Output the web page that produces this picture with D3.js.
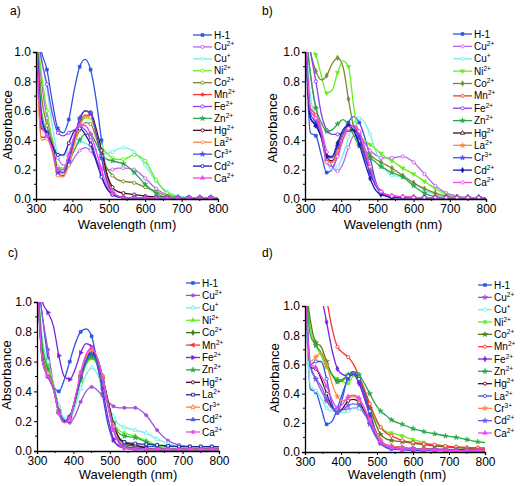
<!DOCTYPE html>
<html><head><meta charset="utf-8">
<script src="https://cdn.jsdelivr.net/npm/d3@7"></script>
<style>
html,body{margin:0;padding:0;background:#fff;}
svg{display:block;font-family:"Liberation Sans",Arial,sans-serif;}
</style></head>
<body>
<svg id="chart" width="520" height="486"></svg>
<script>
// Wavelength grid (nm)
const W = [300,315,330,345,360,375,390,405,420,435,450,465,480,495,510,525,540,570,600,630,660,690,720,750,780,800];
const ions = ["H-1","Cu","Cu","Ni","Co","Mn","Fe","Zn","Hg","La","Cr","Cd","Ca"];
const charges = ["","2+","+","2+","2+","2+","2+","2+","2+","2+","3+","2+","2+"];
const xTicks = [300,400,500,600,700,800];
const yTicks = [0,0.2,0.4,0.6,0.8,1.0];
const panelLabels = ["a)","b)","c)","d)"];

// Panel a
const seriesA = [
 [1.2,1.0,0.88,0.66,0.48,0.45,0.54,0.74,0.9,0.95,0.88,0.68,0.4,0.16,0.05,0.02,0.01,0.01,0.01,0.01,0.01,0.01,0.01,0.01,0.01,0.01],
 [1.2,0.8,0.55,0.4,0.28,0.23,0.23,0.28,0.33,0.35,0.33,0.27,0.21,0.2,0.2,0.21,0.21,0.2,0.14,0.07,0.03,0.015,0.01,0.01,0.01,0.01],
 [1.2,0.95,0.75,0.5,0.31,0.29,0.33,0.37,0.39,0.38,0.36,0.34,0.32,0.31,0.32,0.34,0.35,0.32,0.23,0.12,0.05,0.02,0.01,0.01,0.01,0.01],
 [1.2,0.85,0.6,0.4,0.22,0.21,0.28,0.4,0.5,0.55,0.55,0.46,0.36,0.31,0.28,0.27,0.27,0.3,0.26,0.13,0.04,0.015,0.01,0.01,0.01,0.01],
 [1.2,0.7,0.5,0.38,0.2,0.2,0.27,0.38,0.47,0.52,0.51,0.42,0.3,0.21,0.16,0.13,0.12,0.11,0.08,0.05,0.02,0.01,0.01,0.01,0.01,0.01],
 [1.2,0.42,0.42,0.33,0.17,0.16,0.24,0.38,0.51,0.57,0.57,0.46,0.3,0.14,0.05,0.02,0.01,0.01,0.01,0.01,0.01,0.01,0.01,0.01,0.01,0.01],
 [1.2,0.95,0.78,0.58,0.45,0.43,0.45,0.47,0.49,0.47,0.4,0.28,0.16,0.07,0.03,0.015,0.01,0.01,0.01,0.01,0.01,0.01,0.01,0.01,0.01,0.01],
 [1.2,0.6,0.45,0.35,0.2,0.2,0.25,0.33,0.4,0.44,0.44,0.38,0.3,0.27,0.26,0.25,0.24,0.18,0.1,0.04,0.01,0.01,0.01,0.01,0.01,0.01],
 [1.2,0.48,0.45,0.36,0.19,0.18,0.26,0.41,0.54,0.6,0.59,0.48,0.33,0.17,0.08,0.05,0.04,0.03,0.02,0.015,0.01,0.01,0.01,0.01,0.01,0.01],
 [1.2,0.4,0.41,0.32,0.16,0.15,0.23,0.37,0.5,0.56,0.56,0.45,0.29,0.13,0.05,0.02,0.01,0.01,0.01,0.01,0.01,0.01,0.01,0.01,0.01,0.01],
 [1.2,0.5,0.45,0.35,0.18,0.18,0.26,0.41,0.55,0.6,0.58,0.45,0.28,0.12,0.04,0.02,0.01,0.01,0.01,0.01,0.01,0.01,0.01,0.01,0.01,0.01],
 [1.2,0.55,0.44,0.36,0.3,0.3,0.38,0.46,0.48,0.44,0.37,0.26,0.15,0.07,0.03,0.015,0.01,0.01,0.01,0.01,0.01,0.01,0.01,0.01,0.01,0.01],
 [1.2,0.5,0.43,0.34,0.2,0.2,0.3,0.43,0.5,0.5,0.44,0.33,0.2,0.09,0.04,0.02,0.01,0.01,0.01,0.01,0.01,0.01,0.01,0.01,0.01,0.01]
];
// Panel b
const seriesB = [
 [1.2,0.45,0.43,0.3,0.18,0.2,0.3,0.42,0.52,0.56,0.52,0.42,0.28,0.12,0.04,0.02,0.01,0.01,0.01,0.01,0.01,0.01,0.01,0.01,0.01,0.01],
 [1.2,0.85,0.62,0.48,0.32,0.22,0.19,0.24,0.35,0.43,0.43,0.38,0.33,0.3,0.28,0.28,0.28,0.29,0.25,0.17,0.09,0.04,0.02,0.01,0.01,0.01],
 [1.2,0.7,0.55,0.42,0.25,0.2,0.22,0.3,0.42,0.52,0.55,0.52,0.44,0.33,0.25,0.19,0.16,0.15,0.11,0.06,0.03,0.01,0.01,0.01,0.01,0.01],
 [1.2,1.05,0.98,0.84,0.72,0.74,0.86,0.94,0.9,0.62,0.43,0.4,0.37,0.34,0.31,0.28,0.26,0.21,0.17,0.12,0.07,0.03,0.015,0.01,0.01,0.01],
 [1.2,1.0,0.87,0.81,0.84,0.92,0.96,0.9,0.68,0.48,0.38,0.33,0.3,0.27,0.25,0.23,0.21,0.16,0.11,0.07,0.04,0.02,0.01,0.01,0.01,0.01],
 [1.2,0.62,0.57,0.45,0.28,0.25,0.32,0.42,0.49,0.5,0.45,0.33,0.2,0.1,0.05,0.03,0.02,0.015,0.01,0.01,0.01,0.01,0.01,0.01,0.01,0.01],
 [1.2,1.0,0.8,0.58,0.47,0.44,0.44,0.45,0.47,0.46,0.39,0.28,0.18,0.1,0.05,0.03,0.02,0.01,0.01,0.01,0.01,0.01,0.01,0.01,0.01,0.01],
 [1.2,0.85,0.62,0.52,0.46,0.47,0.51,0.54,0.5,0.43,0.36,0.32,0.28,0.25,0.22,0.2,0.18,0.15,0.09,0.04,0.015,0.01,0.01,0.01,0.01,0.01],
 [1.2,0.55,0.5,0.42,0.27,0.26,0.33,0.42,0.47,0.47,0.42,0.31,0.2,0.1,0.05,0.03,0.02,0.015,0.01,0.01,0.01,0.01,0.01,0.01,0.01,0.01],
 [1.2,0.6,0.55,0.44,0.26,0.25,0.32,0.42,0.49,0.5,0.45,0.33,0.2,0.1,0.05,0.03,0.02,0.015,0.01,0.01,0.01,0.01,0.01,0.01,0.01,0.01],
 [1.2,0.58,0.52,0.44,0.29,0.28,0.36,0.45,0.5,0.49,0.42,0.3,0.18,0.09,0.04,0.02,0.015,0.01,0.01,0.01,0.01,0.01,0.01,0.01,0.01,0.01],
 [1.2,0.55,0.5,0.42,0.29,0.29,0.38,0.47,0.5,0.46,0.37,0.25,0.14,0.06,0.03,0.02,0.01,0.01,0.01,0.01,0.01,0.01,0.01,0.01,0.01,0.01],
 [1.2,0.6,0.55,0.45,0.25,0.22,0.29,0.4,0.48,0.5,0.46,0.35,0.22,0.11,0.05,0.03,0.02,0.015,0.01,0.01,0.01,0.01,0.01,0.01,0.01,0.01]
];
// Panel c
const seriesC = [
 [1.2,0.9,0.62,0.44,0.4,0.48,0.6,0.72,0.8,0.82,0.77,0.6,0.38,0.18,0.07,0.04,0.04,0.035,0.03,0.03,0.03,0.03,0.03,0.03,0.03,0.03],
 [1.2,0.9,0.68,0.45,0.3,0.21,0.19,0.24,0.33,0.4,0.43,0.41,0.37,0.33,0.3,0.29,0.29,0.29,0.24,0.14,0.07,0.04,0.03,0.02,0.02,0.02],
 [1.2,0.75,0.6,0.45,0.3,0.22,0.22,0.3,0.42,0.51,0.56,0.52,0.42,0.32,0.23,0.18,0.16,0.14,0.12,0.08,0.05,0.03,0.02,0.02,0.02,0.02],
 [1.2,0.7,0.57,0.44,0.27,0.2,0.22,0.33,0.47,0.58,0.62,0.58,0.46,0.31,0.19,0.14,0.12,0.1,0.07,0.04,0.02,0.01,0.01,0.01,0.01,0.01],
 [1.2,0.65,0.52,0.42,0.27,0.2,0.23,0.34,0.49,0.6,0.64,0.6,0.49,0.33,0.18,0.09,0.05,0.03,0.02,0.01,0.01,0.01,0.01,0.01,0.01,0.01],
 [1.2,0.62,0.51,0.42,0.26,0.19,0.22,0.35,0.51,0.63,0.68,0.63,0.5,0.32,0.16,0.07,0.03,0.02,0.01,0.01,0.01,0.01,0.01,0.01,0.01,0.01],
 [1.2,1.0,0.93,0.84,0.64,0.5,0.48,0.55,0.66,0.72,0.7,0.58,0.42,0.22,0.08,0.03,0.02,0.01,0.01,0.01,0.01,0.01,0.01,0.01,0.01,0.01],
 [1.2,0.7,0.55,0.44,0.27,0.2,0.23,0.34,0.48,0.59,0.63,0.59,0.48,0.33,0.19,0.12,0.1,0.09,0.06,0.03,0.01,0.01,0.01,0.01,0.01,0.01],
 [1.2,0.62,0.5,0.42,0.26,0.2,0.23,0.35,0.5,0.62,0.66,0.62,0.5,0.34,0.18,0.09,0.06,0.04,0.02,0.01,0.01,0.01,0.01,0.01,0.01,0.01],
 [1.2,0.6,0.5,0.42,0.26,0.2,0.22,0.34,0.5,0.61,0.66,0.61,0.49,0.32,0.16,0.08,0.06,0.05,0.045,0.04,0.035,0.03,0.03,0.03,0.03,0.03],
 [1.2,0.62,0.52,0.43,0.26,0.19,0.22,0.35,0.51,0.63,0.68,0.63,0.5,0.32,0.16,0.07,0.03,0.02,0.01,0.01,0.01,0.01,0.01,0.01,0.01,0.01],
 [1.2,0.6,0.5,0.42,0.26,0.2,0.23,0.35,0.5,0.61,0.65,0.6,0.47,0.3,0.14,0.06,0.03,0.02,0.01,0.01,0.01,0.01,0.01,0.01,0.01,0.01],
 [1.2,0.6,0.5,0.41,0.25,0.19,0.22,0.36,0.53,0.65,0.69,0.63,0.49,0.3,0.14,0.05,0.02,0.01,0.01,0.01,0.01,0.01,0.01,0.01,0.01,0.01]
];
// Panel d
const seriesD = [
 [1.2,0.43,0.41,0.3,0.19,0.21,0.3,0.41,0.5,0.53,0.48,0.37,0.25,0.13,0.06,0.03,0.02,0.015,0.01,0.01,0.01,0.01,0.01,0.01,0.01,0.01],
 [1.2,0.6,0.5,0.42,0.35,0.3,0.29,0.29,0.29,0.3,0.3,0.26,0.2,0.12,0.07,0.05,0.04,0.03,0.025,0.02,0.02,0.02,0.015,0.015,0.015,0.015],
 [1.2,0.45,0.42,0.37,0.3,0.28,0.28,0.27,0.28,0.3,0.3,0.27,0.2,0.12,0.06,0.04,0.03,0.025,0.02,0.02,0.015,0.015,0.015,0.01,0.01,0.01],
 [1.2,0.85,0.73,0.66,0.58,0.53,0.5,0.48,0.47,0.52,0.5,0.42,0.32,0.22,0.17,0.14,0.13,0.11,0.085,0.065,0.05,0.04,0.035,0.03,0.03,0.03],
 [1.2,0.9,0.75,0.72,0.62,0.53,0.48,0.49,0.52,0.54,0.5,0.42,0.3,0.2,0.12,0.09,0.08,0.07,0.06,0.05,0.04,0.035,0.03,0.025,0.02,0.02],
 [2.0,1.8,1.5,1.25,1.05,0.85,0.72,0.68,0.65,0.6,0.52,0.43,0.33,0.24,0.17,0.13,0.11,0.08,0.065,0.055,0.05,0.04,0.035,0.03,0.03,0.025],
 [2.0,1.6,1.3,1.08,0.89,0.7,0.57,0.53,0.52,0.53,0.47,0.37,0.26,0.15,0.08,0.05,0.04,0.03,0.02,0.02,0.02,0.015,0.015,0.015,0.01,0.01],
 [1.2,0.8,0.73,0.68,0.6,0.53,0.49,0.5,0.53,0.55,0.53,0.47,0.4,0.33,0.28,0.25,0.22,0.19,0.16,0.14,0.125,0.11,0.1,0.085,0.07,0.065],
 [1.2,0.58,0.57,0.5,0.4,0.31,0.27,0.3,0.35,0.36,0.34,0.28,0.2,0.12,0.06,0.04,0.03,0.025,0.02,0.02,0.015,0.015,0.015,0.01,0.01,0.01],
 [1.2,0.6,0.62,0.62,0.5,0.33,0.27,0.38,0.52,0.55,0.5,0.4,0.28,0.15,0.07,0.04,0.03,0.02,0.02,0.015,0.015,0.01,0.01,0.01,0.01,0.01],
 [1.2,0.62,0.65,0.68,0.6,0.47,0.38,0.35,0.37,0.38,0.36,0.3,0.22,0.14,0.08,0.05,0.04,0.03,0.02,0.02,0.015,0.015,0.01,0.01,0.01,0.01],
 [1.2,0.58,0.5,0.45,0.36,0.3,0.27,0.29,0.32,0.33,0.32,0.27,0.19,0.11,0.06,0.04,0.03,0.02,0.02,0.015,0.015,0.01,0.01,0.01,0.01,0.01],
 [1.2,0.6,0.58,0.52,0.45,0.36,0.3,0.33,0.38,0.39,0.37,0.3,0.22,0.13,0.07,0.04,0.03,0.02,0.02,0.015,0.015,0.01,0.01,0.01,0.01,0.01]
];

// Styles
const colorsA = ["#2a55e5","#c060f0","#70f0e8","#66ee22","#7a8a2a","#ff3333","#8a3ef0","#2aa84a","#4a0c28","#ff8844","#4a4af0","#1a1ab8","#f044f0"];
const colorsB = colorsA;
const colorsC = ["#2a55e5","#a050e0","#70f0e8","#66ee22","#3a7a1a","#ff3333","#7a22e0","#2aa84a","#4a0c28","#1a2a9a","#ff8844","#3a5af0","#f044f0"];
const colorsD = ["#2a55e5","#a050e0","#70f0e8","#66ee22","#5a7a1a","#ff3333","#7a22e0","#2aa84a","#4a0c28","#3050e0","#ff8844","#6a5af0","#f044f0"];
const markA = ["sq","o","o","o","o","c","o","star","o","o","star","o","tri"];
const markB = ["sq","o","o","dtri","dia","o","o","star","otri","star","star","dia","o"];
const markC = ["sq","c","otri","tri","dia","ltri","rtri","star","o","osq","ostar","tri","c"];
const markD = ["sq","star","o","sq","star","o","dia","star","o","o","star","star","tri"];

const panels = [
 {data:seriesA,colors:colorsA,marks:markA,x0:36,x1:218,yT:52,yB:199,lab:[10,15],legX:193,legL:19,legY0:35,legY1:178,yTitle:[8,125],xTitle:[127,229]},
 {data:seriesB,colors:colorsB,marks:markB,x0:305,x1:486,yT:52,yB:199,lab:[262,15],legX:453,legL:19,legY0:34,legY1:182.5,yTitle:[273,128],xTitle:[393,229]},
 {data:seriesC,colors:colorsC,marks:markC,x0:37,x1:219,yT:302,yB:451,lab:[8,257],legX:186,legL:14,legY0:283,legY1:432,yTitle:[7,375],xTitle:[128,479]},
 {data:seriesD,colors:colorsD,marks:markD,x0:305,x1:485,yT:306,yB:452,lab:[262,257],legX:478,legL:14,legY0:285,legY1:433,yTitle:[275,378],xTitle:[397,479]}
];

const svg = d3.select("#chart");

function drawMarker(g, type, x, y, color){
  const s = 9;
  let sym, rot = 0, open = false;
  switch(type){
    case "sq": sym=d3.symbolSquare; break;
    case "osq": sym=d3.symbolSquare; open=true; break;
    case "o": sym=d3.symbolCircle; open=true; break;
    case "c": sym=d3.symbolCircle; break;
    case "tri": sym=d3.symbolTriangle; break;
    case "otri": sym=d3.symbolTriangle; open=true; break;
    case "dtri": sym=d3.symbolTriangle; rot=180; break;
    case "ltri": sym=d3.symbolTriangle; rot=-90; break;
    case "rtri": sym=d3.symbolTriangle; rot=90; break;
    case "dia": sym=d3.symbolDiamond; break;
    case "star": sym=d3.symbolStar; break;
    case "ostar": sym=d3.symbolStar; open=true; break;
  }
  g.append("path")
    .attr("d", d3.symbol().type(sym).size(open? 8 : s)())
    .attr("transform", `translate(${x},${y}) rotate(${rot})`)
    .attr("fill", open ? "#fff" : color)
    .attr("stroke", color)
    .attr("stroke-width", open ? 0.9 : 0.5);
}

panels.forEach((p, pi) => {
  const x = d3.scaleLinear().domain([300,800]).range([p.x0,p.x1]);
  const y = d3.scaleLinear().domain([0,1]).range([p.yB,p.yT]);
  const g = svg.append("g");
  const cid = "clip"+pi;
  svg.append("clipPath").attr("id",cid).append("rect")
    .attr("x",p.x0).attr("y",p.yT).attr("width",p.x1-p.x0+1).attr("height",p.yB-p.yT);

  const line = d3.line().x((d,i)=>x(W[i])).y(d=>y(d)).curve(d3.curveMonotoneX);
  const plot = g.append("g").attr("clip-path",`url(#${cid})`);
  p.data.forEach((s, si) => {
    plot.append("path").attr("d", line(s)).attr("fill","none")
      .attr("stroke", p.colors[si]).attr("stroke-width",1.3);
    s.forEach((v,i) => {
      if (W[i] % 30 === 0 && W[i] < 800 && v <= 1.0) drawMarker(plot, p.marks[si], x(W[i]), y(v), p.colors[si]);
    });
  });

  // Axes
  const xa = g.append("g").attr("transform",`translate(0,${p.yB})`)
    .call(d3.axisBottom(x).tickValues(xTicks).tickSize(3).tickPadding(2).tickFormat(d3.format("d")));
  const ya = g.append("g").attr("transform",`translate(${p.x0},0)`)
    .call(d3.axisLeft(y).tickValues(yTicks).tickSize(3).tickPadding(2).tickFormat(d3.format(".1f")));
  [xa,ya].forEach(a=>{
    a.select(".domain").attr("stroke","#000").attr("stroke-width",1.3);
    a.selectAll(".tick line").attr("stroke","#000").attr("stroke-width",1);
    a.selectAll("text").attr("font-size",12).attr("fill","#000").attr("font-family","Liberation Sans, Arial, sans-serif");
  });
  // minor ticks
  [350,450,550,650,750].forEach(v=>{
    g.append("line").attr("x1",x(v)).attr("x2",x(v)).attr("y1",p.yB).attr("y2",p.yB+2).attr("stroke","#000");
  });
  [0.1,0.3,0.5,0.7,0.9].forEach(v=>{
    g.append("line").attr("x1",p.x0-2).attr("x2",p.x0).attr("y1",y(v)).attr("y2",y(v)).attr("stroke","#000");
  });

  // Titles
  g.append("text").attr("x",p.xTitle[0]).attr("y",p.xTitle[1]).attr("text-anchor","middle")
    .attr("font-size",13).text("Wavelength (nm)");
  g.append("text").attr("transform",`translate(${p.yTitle[0]+4},${p.yTitle[1]}) rotate(-90)`)
    .attr("text-anchor","middle").attr("font-size",13).text("Absorbance");
  g.append("text").attr("x",p.lab[0]).attr("y",p.lab[1]).attr("font-size",12).text(panelLabels[pi]);

  // Legend
  const step = (p.legY1 - p.legY0) / (ions.length - 1);
  ions.forEach((name, si) => {
    const ly = p.legY0 + si*step;
    g.append("line").attr("x1",p.legX).attr("x2",p.legX+p.legL).attr("y1",ly).attr("y2",ly)
      .attr("stroke",p.colors[si]).attr("stroke-width",1.3);
    drawMarker(g, p.marks[si], p.legX+p.legL/2, ly, p.colors[si]);
    const t = g.append("text").attr("x",p.legX+p.legL+2).attr("y",ly+3.5).attr("font-size",10);
    t.append("tspan").text(name);
    if (charges[si]) t.append("tspan").attr("font-size",6.5).attr("dy",-4).text(charges[si]);
  });
});
</script>
</body></html>
